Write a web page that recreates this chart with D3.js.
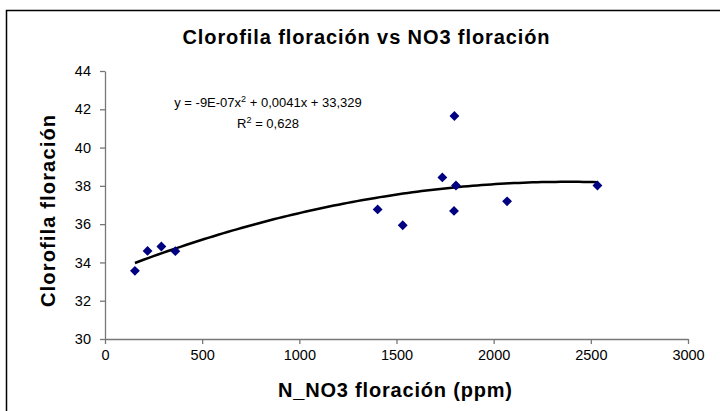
<!DOCTYPE html>
<html>
<head>
<meta charset="utf-8">
<script src="https://cdn.jsdelivr.net/npm/d3@7"></script>
<style>
  body { margin: 0; background: #fff; }
  text { font-family: Arial, "Liberation Sans", sans-serif; }
</style>
</head>
<body>
<div id="vis"></div>
<script>
// N_NO3 (ppm) vs clorofila
var nitrato = [154, 219, 290, 362, 1403, 1532, 1736, 1798, 1806, 1796, 2069, 2534];
var clorofila = [33.56, 34.6, 34.83, 34.59, 36.77, 35.94, 38.44, 41.65, 38.02, 36.69, 37.19, 38.02];

var xTicks = [0, 500, 1000, 1500, 2000, 2500, 3000];
var yTicks = [30, 32, 34, 36, 38, 40, 42, 44];

// labels of the trendline as printed on the chart
var eqText = ["y = -9E-07x", "2", " + 0,0041x + 33,329"];
var r2Text = ["R", "2", " = 0,628"];

var width = 720, height = 411;

// order 2 least squares fit, like the spreadsheet trendline
function polyFit(xs, ys){
    var S = [0, 0, 0, 0, 0], T = [0, 0, 0];
    for(var i = 0; i < xs.length; i++){
        var p = 1;
        for(var k = 0; k < 5; k++){
            S[k] += p;
            if(k < 3) T[k] += p * ys[i];
            p *= xs[i];
        }
    }
    var A = [[S[0], S[1], S[2], T[0]], [S[1], S[2], S[3], T[1]], [S[2], S[3], S[4], T[2]]];
    for(var c = 0; c < 3; c++){
        for(var r = c + 1; r < 3; r++){
            var f = A[r][c] / A[c][c];
            for(var j = c; j < 4; j++) A[r][j] -= f * A[c][j];
        }
    }
    var b = [0, 0, 0];
    for(var r = 2; r >= 0; r--){
        var s = A[r][3];
        for(var j = r + 1; j < 3; j++) s -= A[r][j] * b[j];
        b[r] = s / A[r][r];
    }
    return b;
}
var coef = polyFit(nitrato, clorofila);

var svg = d3.select("#vis").append("svg")
    .attr("width", width)
    .attr("height", height);

svg.append("rect")
    .attr("x", 6.5).attr("y", 10.5)
    .attr("width", 720).attr("height", 410)
    .attr("fill", "white")
    .attr("stroke", "black")
    .attr("stroke-width", 1.5);

var x = d3.scaleLinear().domain([0, 3000]).range([105, 688]);
var y = d3.scaleLinear().domain([30, 44]).range([339, 71]);

// axes
var xAxis = svg.append("g")
    .attr("transform", "translate(0," + y(30) + ")")
    .call(d3.axisBottom(x).tickValues(xTicks).tickFormat(d3.format("d"))
        .tickSize(5).tickSizeOuter(0).tickPadding(6));

var yAxis = svg.append("g")
    .attr("transform", "translate(" + x(0) + ",0)")
    .call(d3.axisLeft(y).tickValues(yTicks).tickSize(5).tickSizeOuter(0).tickPadding(9));

[xAxis, yAxis].forEach(function(a){
    a.select(".domain").attr("stroke", "#777").attr("stroke-width", 1.3);
    a.selectAll(".tick line").attr("stroke", "#777").attr("stroke-width", 1.3);
    a.selectAll(".tick text")
        .attr("fill", "black")
        .style("font-size", "14.5px")
        .style("font-family", "Arial, 'Liberation Sans', sans-serif");
});

// trendline
var lineData = d3.range(0, 101).map(function(i){
    var xv = d3.min(nitrato) + (d3.max(nitrato) - d3.min(nitrato)) * i / 100;
    return [xv, coef[0] + coef[1]*xv + coef[2]*xv*xv];
});

svg.append("path")
    .datum(lineData)
    .attr("fill", "none")
    .attr("stroke", "black")
    .attr("stroke-width", 2.5)
    .attr("d", d3.line()
        .x(function(d){ return x(d[0]); })
        .y(function(d){ return y(d[1]); }));

// points
svg.selectAll(".pt")
    .data(nitrato)
    .enter().append("path")
    .attr("class", "pt")
    .attr("transform", function(d, i){ return "translate(" + x(d) + "," + y(clorofila[i]) + ")"; })
    .attr("d", d3.symbol(d3.symbolDiamond2).size(62))
    .attr("fill", "#000080");

// equation
function supText(parts, cx, cy){
    var t = svg.append("text")
        .attr("x", cx).attr("y", cy)
        .attr("text-anchor", "middle")
        .style("font-size", "13px");
    t.append("tspan").text(parts[0]);
    t.append("tspan").attr("dy", -5).style("font-size", "9px").text(parts[1]);
    t.append("tspan").attr("dy", 5).text(parts[2]);
}
supText(eqText, 268, 107);
supText(r2Text, 268, 128);

// titles
svg.append("text")
    .attr("x", 366).attr("y", 44)
    .attr("text-anchor", "middle")
    .attr("textLength", 367)
    .attr("lengthAdjust", "spacing")
    .style("font-size", "20px").style("font-weight", "bold")
    .text("Clorofila floración vs NO3 floración");

svg.append("text")
    .attr("x", 395).attr("y", 397)
    .attr("text-anchor", "middle")
    .attr("textLength", 234)
    .attr("lengthAdjust", "spacing")
    .style("font-size", "20px").style("font-weight", "bold")
    .text("N_NO3 floración (ppm)");

svg.append("text")
    .attr("transform", "translate(55,211) rotate(-90)")
    .attr("text-anchor", "middle")
    .attr("textLength", 192)
    .attr("lengthAdjust", "spacing")
    .style("font-size", "20px").style("font-weight", "bold")
    .text("Clorofila floración");
</script>
</body>
</html>
